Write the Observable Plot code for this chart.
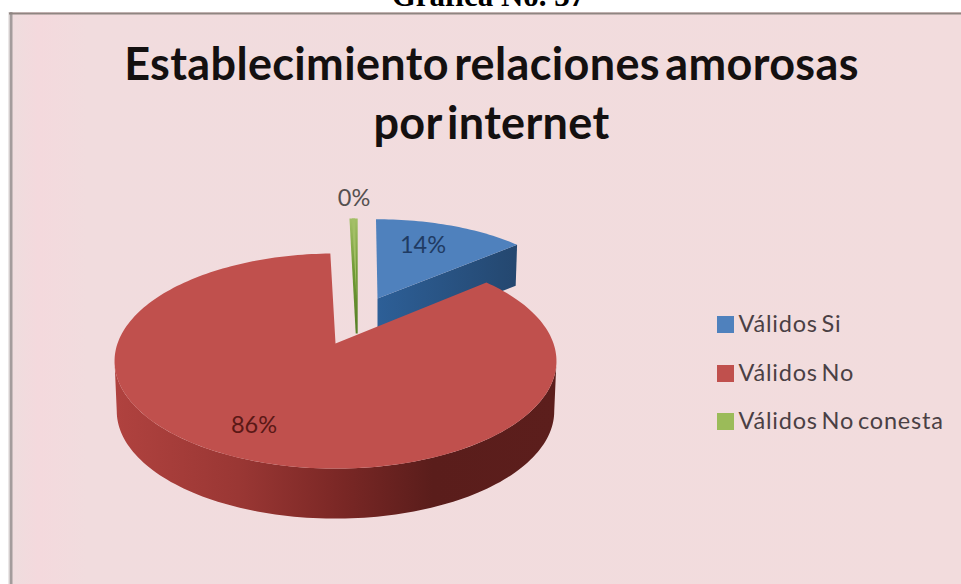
<!DOCTYPE html>
<html>
<head>
<meta charset="utf-8">
<script src="https://cdn.jsdelivr.net/npm/d3@7"></script>
<script src="https://cdn.jsdelivr.net/npm/@observablehq/plot@0.6"></script>
<style>
html,body{margin:0;padding:0;background:#fff;overflow:hidden}
svg{display:block}
</style>
</head>
<body>
<div id="chart"></div>
<script>
// ---- data ----
const categories = ["Válidos Si", "Válidos No", "Válidos No conesta"];
const values = [14, 85.7, 0.3];
const valueLabels = ["14%", "86%", "0%"];
const heading = "Gráfica No. 37";
const titleLines = ["Establecimiento relaciones amorosas", "por internet"];

// ---- styling / layout of the drawing ----
const W = 961, H = 584;
const topColors = ["#4f81bd", "#c0504d", "#9bbb59"];
const persp = {a: 104.7, b: 218, k: 0.163};            // tilted-disc projection
const layout = [
  {tx: 377, ty: 298, sx: 0.925, sy: 0.88, depth: 41},
  {tx: 335, ty: 343, sx: 1, sy: 1, depth: 50},
  {tx: 356, ty: 298, sx: 0.88, sy: 0.89, depth: 35}
];
const labelAt = [[422.5, 245], [253.5, 425], [353.5, 198]];
const legendY = [324, 373, 421];

// ---- geometry from the values ----
const arcs = d3.pie().sort(null).startAngle(-0.5 * Math.PI / 180)
  .endAngle(359.5 * Math.PI / 180)(values);
function pt(i, theta, dz = 0) {
  const L = layout[i], w = 1 + persp.k * Math.cos(theta);
  const shrink = dz ? 0.99 : 1;
  return {
    x: L.tx + shrink * L.sx * persp.b * Math.sin(theta) / w,
    y: L.ty - L.sy * persp.a * Math.cos(theta) / w + dz
  };
}
function sweep(i, a0, a1, dz = 0) {
  const n = Math.max(2, Math.ceil(Math.abs(a1 - a0) * 40));
  return d3.range(n + 1).map(j => pt(i, a0 + (a1 - a0) * j / n, dz));
}
const closeUp = (id, pts) => pts.map(p => ({...p, id}));
const tip = i => ({x: layout[i].tx, y: layout[i].ty});

const topFace = i => closeUp("top" + i, [tip(i), ...sweep(i, arcs[i].startAngle, arcs[i].endAngle), tip(i)]);

// blue: the radial wall facing the viewer
const blueEnd = arcs[0].endAngle;
const blueWall = closeUp("blueWall", [
  tip(0), pt(0, blueEnd), pt(0, blueEnd, layout[0].depth),
  {x: tip(0).x, y: tip(0).y + layout[0].depth}
]);
// red: the outer rim along the front of the disc
const rimA = Math.acos(-persp.k), rimB = 2 * Math.PI - rimA;
const redRim = closeUp("redRim", [
  ...sweep(1, rimA, rimB),
  ...sweep(1, rimB, rimA, layout[1].depth)
]);
// green: thin wall of the sliver, tapering to the bottom of the tip
const gA = pt(2, arcs[2].startAngle), gB = pt(2, arcs[2].endAngle);
const greenWall = closeUp("greenWall", [
  {x: gA.x - 2.5, y: gA.y}, {x: gB.x + 2.6, y: gB.y},
  {x: tip(2).x + 1.2, y: tip(2).y + layout[2].depth},
  {x: tip(2).x - 0.8, y: tip(2).y + layout[2].depth}
]);

const defs = () => {
  const NS = "http://www.w3.org/2000/svg";
  const d = document.createElementNS(NS, "defs");
  d.innerHTML = `
  <linearGradient id="rimGrad" x1="0" x2="1" y1="0" y2="0">
    <stop offset="0" stop-color="#b0423f"/><stop offset="0.28" stop-color="#9a3734"/>
    <stop offset="0.5" stop-color="#7c2826"/><stop offset="0.72" stop-color="#5a1d1b"/>
    <stop offset="1" stop-color="#5c1e1c"/>
  </linearGradient>
  <linearGradient id="blueGrad" x1="0" x2="1" y1="0" y2="0">
    <stop offset="0" stop-color="#2d5f97"/><stop offset="1" stop-color="#24476f"/>
  </linearGradient>
  <linearGradient id="greenGrad" x1="0" x2="0" y1="0" y2="1">
    <stop offset="0" stop-color="#a3bf66"/><stop offset="0.45" stop-color="#6f9a35"/><stop offset="1" stop-color="#567f26"/>
  </linearGradient>
  <linearGradient id="panelGrad" x1="0" x2="1" y1="0" y2="0">
    <stop offset="0" stop-color="#eeddde"/><stop offset="0.03" stop-color="#f4d9dd"/>
    <stop offset="0.08" stop-color="#f1dcde"/><stop offset="1" stop-color="#f2dcdd"/>
  </linearGradient>`;
  return d;
};

const face = (pts, fill) => Plot.line(pts, {x: "x", y: "y", z: "id", fill, stroke: "none", curve: "linear"});

const chart = Plot.plot({
  width: W, height: H, margin: 0,
  x: {domain: [0, W], range: [0, W], axis: null},
  y: {domain: [0, H], range: [0, H], axis: null},
  style: {background: "#fff", overflow: "hidden"},
  marks: [
    defs,
    Plot.rect([0], {x1: () => 10, x2: () => W, y1: () => 12, y2: () => H, fill: "url(#panelGrad)"}),
    Plot.ruleX([10.5], {y1: 12, y2: H, stroke: "#a39c9c", strokeWidth: 3}),
    Plot.ruleX([8.5], {y1: 12, y2: H, stroke: "#d6cfcf", strokeWidth: 1}),
    Plot.ruleY([13], {x1: 9, x2: W, stroke: "#8f8581", strokeWidth: 2}),
    Plot.text([heading], {x: () => 488, y: () => 5, text: d => d, fontFamily: "Liberation Serif", fontWeight: "bold", fontSize: 31, fill: "#000", lineAnchor: "bottom", textAnchor: "middle"}),
    // pie walls and faces, back to front
    face(blueWall, "url(#blueGrad)"),
    face(topFace(0), topColors[0]),
    face(greenWall, "url(#greenGrad)"),
    face(topFace(2), "#a3bf66"),
    face(redRim, "url(#rimGrad)"),
    face(topFace(1), topColors[1]),
    // value labels
    Plot.text(valueLabels, {
      x: (d, i) => labelAt[i][0], y: (d, i) => labelAt[i][1], text: d => d,
      fontFamily: "Lato", fontSize: 23.5,
      fill: (d, i) => ["#1f3b63", "#5a1816", "#555050"][i]
    }),
    // legend
    Plot.dot(categories, {
      x: () => 725, y: (d, i) => legendY[i], symbol: "square", r: 9.6,
      fill: (d, i) => topColors[i], stroke: "none"
    }),
    Plot.text(categories, {
      x: () => 738, y: (d, i) => legendY[i], text: d => d, textAnchor: "start",
      fontFamily: "Lato", fontSize: 23.5, fill: "#4a4044"
    }),
    // title
    Plot.text(titleLines, {
      x: () => 491, y: (d, i) => 65 + i * 59, text: d => d,
      fontFamily: "Lato", fontWeight: "bold", fontSize: 45, fill: "#141010"
    })
  ]
});
d3.select(chart).selectAll("text").each(function () {
  const t = this.textContent;
  if (categories.includes(t)) d3.select(this).style("letter-spacing", "0.8px").style("word-spacing", "-3px");
  if (titleLines.includes(t)) d3.select(this).style("letter-spacing", "0.35px").style("word-spacing", "-6px");
});
document.getElementById("chart").append(chart);
</script>
</body>
</html>
